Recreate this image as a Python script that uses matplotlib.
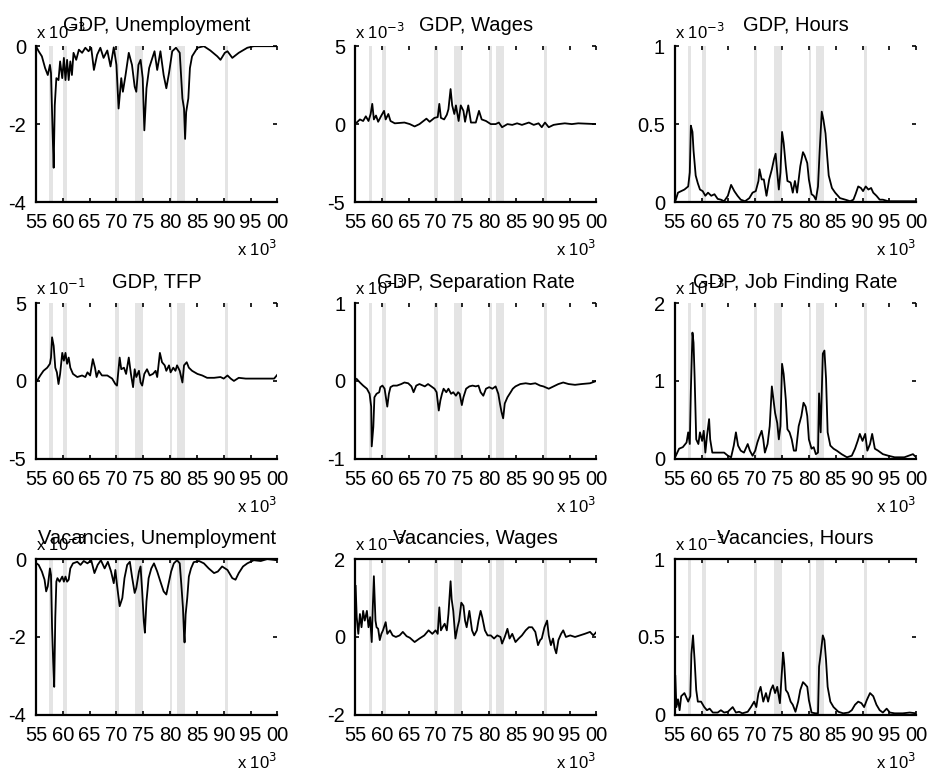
import matplotlib
matplotlib.use("Agg")
import matplotlib.pyplot as plt

plt.rcParams["font.family"] = ["Liberation Sans", "DejaVu Sans"]

# recession bands (start, end)
recessions = [(1957.5, 1958.1), (1960.0, 1960.75), (1969.8, 1970.4), (1973.5, 1974.9),
              (1980.0, 1980.45), (1981.3, 1982.8), (1990.3, 1990.8)]

year_ticks = [1955, 1960, 1965, 1970, 1975, 1980, 1985, 1990, 1995, 2000]
year_labels = ["55", "60", "65", "70", "75", "80", "85", "90", "95", "00"]

# --- GDP, Unemployment (x 10^-3)
gdp_unemp_t = [1955.0, 1955.5, 1956.1, 1956.7, 1957.2, 1957.6, 1957.8, 1958.1, 1958.3, 1958.5,
               1958.8, 1959.2, 1959.5, 1959.9, 1960.2, 1960.5, 1960.8, 1961.1, 1961.4, 1961.7,
               1962.0, 1962.5, 1963.0, 1963.6, 1964.2, 1964.8, 1965.3, 1965.8, 1966.4, 1967.0,
               1967.6, 1968.3, 1968.9, 1969.5, 1970.0, 1970.4, 1970.9, 1971.2, 1971.7, 1972.3,
               1972.9, 1973.4, 1973.7, 1974.1, 1974.5, 1974.9, 1975.2, 1975.6, 1976.1, 1976.7,
               1977.1, 1977.6, 1978.2, 1978.8, 1979.3, 1979.8, 1980.4, 1981.1, 1981.8, 1982.3,
               1982.6, 1982.8, 1983.0, 1983.4, 1983.7, 1984.1, 1985.1, 1986.3, 1987.5, 1988.8,
               1989.4, 1990.2, 1990.7, 1991.6, 1992.8, 1994.4, 1995.6, 2000.0]
gdp_unemp_v = [0.0, -0.13, -0.26, -0.56, -0.74, -0.48, -0.69, -2.2, -3.12, -1.52,
               -0.82, -0.87, -0.39, -0.82, -0.30, -0.87, -0.35, -0.87, -0.39, -0.74,
               -0.17, -0.35, -0.09, -0.17, -0.04, -0.13, -0.04, -0.61, -0.22, -0.04,
               -0.30, -0.11, -0.52, -0.03, -0.48, -1.60, -0.82, -1.17, -0.74, -0.17,
               -0.48, -1.04, -1.17, -0.48, -0.35, -0.82, -2.16, -1.08, -0.56, -0.30,
               -0.13, -0.61, -0.13, -0.74, -1.08, -0.69, -0.13, -0.04, -0.17, -1.34,
               -1.60, -2.38, -1.69, -1.34, -0.56, -0.26, -0.04, 0.0, -0.11, -0.26,
               -0.35, -0.17, -0.13, -0.30, -0.17, -0.04, 0.0, 0.0]

# --- GDP, Wages (x 10^-3)
gdp_wages_t = [1955.3, 1955.9, 1956.5, 1957.0, 1957.5, 1957.9, 1958.2, 1958.5, 1958.9, 1959.3,
               1959.9, 1960.4, 1960.7, 1961.2, 1961.6, 1962.4, 1964.2, 1965.2, 1966.1, 1967.0,
               1968.3, 1968.9, 1969.8, 1970.4, 1970.7, 1971.0, 1971.6, 1972.1, 1972.4, 1972.8,
               1973.1, 1973.5, 1973.8, 1974.3, 1974.7, 1975.2, 1975.5, 1976.1, 1976.6, 1977.5,
               1978.1, 1978.6, 1979.4, 1980.3, 1981.2, 1981.8, 1982.4, 1983.4, 1984.3, 1985.2,
               1986.1, 1987.4, 1988.3, 1989.2, 1989.8, 1990.4, 1991.1, 1992.0, 1992.9, 1994.1,
               1995.4, 1996.6, 2000.0]
gdp_wages_v = [0.1, 0.3, 0.2, 0.5, 0.2, 0.65, 1.3, 0.3, 0.55, 0.15,
               0.55, 0.85, 0.3, 0.65, 0.2, 0.05, 0.1, 0.0, -0.15, 0.0,
               0.35, 0.15, 0.4, 0.45, 1.3, 0.4, 0.3, 0.6, 0.95, 2.25,
               1.2, 0.65, 1.2, 0.2, 1.2, 0.85, 0.15, 1.2, 0.1, 0.1,
               0.85, 0.3, 0.2, 0.0, 0.0, 0.1, -0.2, 0.0, -0.05, 0.05,
               -0.05, 0.1, -0.05, 0.05, -0.2, 0.1, -0.2, -0.05, 0.0, 0.05,
               0.0, 0.05, 0.0]

# --- GDP, Hours (x 10^-3)
gdp_hours_t = [1955.2, 1955.6, 1956.2, 1956.8, 1957.5, 1957.8, 1958.0, 1958.3, 1958.5, 1958.9,
               1959.3, 1959.7, 1960.2, 1960.7, 1961.2, 1961.8, 1962.4, 1963.0, 1963.6, 1964.2,
               1964.9, 1965.5, 1966.1, 1966.7, 1967.3, 1968.1, 1968.9, 1969.5, 1970.1, 1970.6,
               1970.8, 1971.2, 1971.6, 1972.1, 1972.6, 1973.1, 1973.5, 1973.8, 1974.1, 1974.4,
               1974.7, 1975.0, 1975.3, 1975.7, 1976.0, 1976.6, 1977.0, 1977.4, 1977.8, 1978.4,
               1978.9, 1979.2, 1979.7, 1980.0, 1980.5, 1980.9, 1981.3, 1981.7, 1982.0, 1982.4,
               1982.7, 1983.1, 1983.4, 1983.7, 1984.3, 1984.9, 1985.8, 1986.8, 1987.7, 1988.3,
               1988.7, 1989.2, 1989.7, 1990.1, 1990.6, 1991.1, 1991.6, 1992.0, 1992.6, 1993.2,
               1993.8, 1994.8, 1996.0, 2000.0]
gdp_hours_v = [0.015, 0.06, 0.07, 0.08, 0.10, 0.19, 0.49, 0.45, 0.33, 0.17,
               0.12, 0.08, 0.07, 0.04, 0.06, 0.04, 0.05, 0.02, 0.015, 0.005,
               0.04, 0.11, 0.07, 0.04, 0.015, 0.005, 0.025, 0.06, 0.07, 0.135,
               0.21, 0.145, 0.145, 0.04, 0.145, 0.21, 0.275, 0.31, 0.19, 0.08,
               0.19, 0.45, 0.38, 0.23, 0.135, 0.125, 0.06, 0.135, 0.06, 0.23,
               0.32, 0.30, 0.25, 0.145, 0.05, 0.04, 0.015, 0.10, 0.32, 0.58,
               0.53, 0.44, 0.30, 0.17, 0.09, 0.06, 0.025, 0.015, 0.005, 0.015,
               0.05, 0.10, 0.09, 0.07, 0.10, 0.08, 0.09, 0.06, 0.04, 0.015,
               0.015, 0.005, 0.005, 0.005]

# --- GDP, TFP (x 10^-1)
gdp_tfp_t = [1955.2, 1955.8, 1956.4, 1957.1, 1957.6, 1957.8, 1958.0, 1958.3, 1958.6, 1958.9,
             1959.2, 1959.5, 1959.9, 1960.2, 1960.5, 1960.8, 1961.1, 1961.4, 1961.9, 1962.7,
             1963.6, 1964.2, 1964.6, 1965.1, 1965.6, 1966.0, 1966.3, 1966.7, 1967.3, 1968.3,
             1969.2, 1969.8, 1970.1, 1970.6, 1970.9, 1971.4, 1971.8, 1972.3, 1972.7, 1973.1,
             1973.4, 1973.7, 1974.2, 1974.5, 1974.8, 1975.2, 1975.7, 1976.2, 1976.8, 1977.3,
             1977.6, 1978.1, 1978.5, 1979.0, 1979.3, 1979.8, 1980.1, 1980.6, 1981.0, 1981.3,
             1981.8, 1982.3, 1982.6, 1983.1, 1983.5, 1984.1, 1985.1, 1986.0, 1986.9, 1988.2,
             1989.4, 1990.0, 1990.7, 1991.3, 1991.9, 1992.8, 1994.1, 1995.6, 1997.5, 1999.4,
             2000.0]
gdp_tfp_v = [0.0, 0.35, 0.65, 0.85, 1.1, 1.5, 2.8, 2.25, 0.85, 0.55,
             -0.2, 0.45, 1.8, 1.3, 1.8, 1.1, 1.5, 0.85, 0.45, 0.25,
             0.35, 0.25, 0.55, 0.35, 1.4, 0.85, 0.25, 0.65, 0.35, 0.35,
             0.15, -0.2, -0.3, 1.5, 0.75, 0.85, 0.45, 1.5, 0.45, -0.4,
             0.75, 0.25, 0.65, -0.1, -0.3, 0.45, 0.75, 0.35, 0.45, 0.65,
             0.25, 1.8, 1.2, 1.0, 0.65, 1.0, 0.55, 0.85, 0.65, 1.0,
             0.65, -0.1, 1.0, 1.2, 0.85, 0.65, 0.45, 0.35, 0.2, 0.2,
             0.25, 0.15, 0.35, 0.15, 0.0, 0.2, 0.15, 0.15, 0.15, 0.15,
             0.4]

# --- GDP, Separation Rate
gdp_sep_t = [1955.3, 1955.9, 1956.5, 1957.2, 1957.7, 1958.0, 1958.1, 1958.4, 1958.6, 1959.0,
             1959.5, 1959.7, 1960.1, 1960.5, 1961.0, 1961.3, 1961.6, 1962.1, 1962.8, 1963.6,
             1964.2, 1964.9, 1965.5, 1965.9, 1966.4, 1967.0, 1968.0, 1968.6, 1969.2, 1969.8,
             1970.2, 1970.6, 1970.9, 1971.2, 1971.5, 1972.0, 1972.4, 1972.9, 1973.3, 1973.8,
             1974.2, 1974.5, 1974.9, 1975.2, 1975.7, 1976.3, 1976.9, 1977.5, 1978.0, 1978.4,
             1978.9, 1979.4, 1980.0, 1980.6, 1981.2, 1981.7, 1982.0, 1982.3, 1982.6, 1982.9,
             1983.4, 1984.0, 1984.4, 1984.9, 1985.8, 1986.8, 1987.7, 1988.6, 1989.5, 1990.1,
             1991.1, 1992.0, 1992.9, 1993.8, 1994.8, 1996.0, 1997.2, 1998.8, 2000.0]
gdp_sep_v = [0.025, -0.02, -0.06, -0.10, -0.165, -0.33, -0.84, -0.59, -0.21, -0.165,
             -0.145, -0.08, -0.06, -0.10, -0.33, -0.165, -0.08, -0.06, -0.06, -0.04,
             -0.02, -0.03, -0.07, -0.145, -0.06, -0.04, -0.07, -0.04, -0.07, -0.10,
             -0.145, -0.38, -0.25, -0.165, -0.10, -0.145, -0.10, -0.165, -0.145, -0.19,
             -0.145, -0.165, -0.31, -0.21, -0.10, -0.07, -0.06, -0.07, -0.06, -0.145,
             -0.19, -0.10, -0.08, -0.10, -0.07, -0.165, -0.29, -0.40, -0.48, -0.29,
             -0.21, -0.145, -0.10, -0.07, -0.04, -0.03, -0.04, -0.03, -0.06, -0.07,
             -0.10, -0.07, -0.04, -0.02, -0.04, -0.05, -0.04, -0.03, 0.0]

# --- GDP, Job Finding Rate
gdp_jfr_t = [1955.2, 1955.8, 1956.5, 1957.2, 1957.5, 1957.8, 1958.0, 1958.3, 1958.5, 1958.7,
             1959.0, 1959.4, 1959.7, 1960.1, 1960.4, 1960.7, 1961.0, 1961.4, 1961.6, 1962.0,
             1963.0, 1964.2, 1964.9, 1965.5, 1966.0, 1966.4, 1966.8, 1967.3, 1967.9, 1968.6,
             1969.0, 1969.5, 1970.0, 1970.4, 1970.8, 1971.2, 1971.5, 1971.8, 1972.3, 1972.7,
             1973.1, 1973.4, 1973.7, 1974.1, 1974.4, 1974.7, 1975.0, 1975.3, 1975.7, 1976.0,
             1976.4, 1976.8, 1977.2, 1977.6, 1978.1, 1978.6, 1979.0, 1979.4, 1979.7, 1980.0,
             1980.5, 1980.9, 1981.3, 1981.7, 1981.9, 1982.2, 1982.6, 1982.9, 1983.2, 1983.5,
             1984.0, 1984.6, 1985.2, 1986.1, 1987.1, 1988.0, 1988.6, 1989.1, 1989.5, 1990.0,
             1990.5, 1990.9, 1991.4, 1991.8, 1992.3, 1992.9, 1993.8, 1994.8, 1996.0, 1997.8,
             1999.4, 2000.0]
gdp_jfr_v = [0.04, 0.13, 0.15, 0.21, 0.34, 0.19, 0.88, 1.62, 1.49, 1.05,
             0.25, 0.19, 0.34, 0.23, 0.36, 0.08, 0.29, 0.51, 0.25, 0.08,
             0.08, 0.08, 0.04, 0.02, 0.17, 0.34, 0.17, 0.105, 0.08, 0.19,
             0.105, 0.04, 0.105, 0.21, 0.29, 0.36, 0.25, 0.08, 0.19, 0.42,
             0.93, 0.76, 0.59, 0.46, 0.25, 0.42, 1.22, 1.09, 0.76, 0.38,
             0.34, 0.25, 0.105, 0.105, 0.42, 0.55, 0.72, 0.67, 0.55, 0.25,
             0.13, 0.15, 0.06, 0.08, 0.84, 0.34, 1.35, 1.39, 1.03, 0.34,
             0.17, 0.13, 0.105, 0.06, 0.02, 0.04, 0.13, 0.23, 0.32, 0.23,
             0.32, 0.105, 0.19, 0.32, 0.13, 0.105, 0.06, 0.04, 0.02, 0.02,
             0.06, 0.02]

# --- Vacancies, Unemployment
vac_unemp_t = [1955.1, 1955.5, 1956.1, 1956.6, 1956.9, 1957.2, 1957.6, 1957.8, 1958.0, 1958.2,
               1958.4, 1958.6, 1958.8, 1959.0, 1959.4, 1959.9, 1960.2, 1960.5, 1960.8, 1961.1,
               1961.4, 1961.9, 1962.7, 1963.3, 1963.9, 1964.6, 1965.3, 1965.9, 1966.5, 1967.1,
               1967.8, 1968.4, 1969.0, 1969.5, 1969.8, 1970.1, 1970.6, 1971.1, 1971.5, 1972.0,
               1972.5, 1972.9, 1973.4, 1973.7, 1974.2, 1974.5, 1974.8, 1975.1, 1975.3, 1975.6,
               1976.0, 1976.5, 1977.0, 1977.6, 1978.2, 1978.8, 1979.3, 1979.8, 1980.2, 1980.7,
               1981.3, 1981.8, 1982.1, 1982.4, 1982.6, 1982.7, 1982.9, 1983.2, 1983.5, 1983.9,
               1984.4, 1985.4, 1986.3, 1987.2, 1988.2, 1988.9, 1989.7, 1990.7, 1991.6, 1992.2,
               1992.8, 1993.6, 1994.4, 1995.6, 1996.9, 1998.1, 2000.0]
vac_unemp_v = [-0.11, -0.15, -0.32, -0.53, -0.83, -0.70, -0.24, -0.41, -1.76, -2.60,
               -3.28, -1.50, -0.58, -0.49, -0.58, -0.45, -0.58, -0.45, -0.58, -0.53,
               -0.24, -0.11, -0.07, -0.15, -0.05, -0.11, -0.03, -0.36, -0.15, -0.03,
               -0.24, -0.07, -0.32, -0.62, -0.28, -0.66, -1.21, -1.00, -0.49, -0.15,
               -0.07, -0.45, -0.87, -0.74, -0.32, -0.19, -0.83, -1.59, -1.89, -1.08,
               -0.49, -0.24, -0.11, -0.32, -0.58, -0.83, -0.91, -0.58, -0.32, -0.11,
               -0.03, -0.11, -0.66, -1.25, -1.93, -2.14, -1.42, -1.00, -0.45, -0.24,
               -0.08, -0.05, -0.11, -0.24, -0.36, -0.32, -0.19, -0.28, -0.49, -0.53,
               -0.36, -0.19, -0.11, -0.03, -0.05, 0.0, -0.03]

# --- Vacancies, Wages
vac_wages_t = [1955.1, 1955.3, 1955.6, 1955.9, 1956.2, 1956.5, 1956.8, 1957.2, 1957.5, 1957.8,
               1958.1, 1958.3, 1958.5, 1958.8, 1959.0, 1959.3, 1959.6, 1959.9, 1960.2, 1960.7,
               1961.0, 1961.5, 1962.0, 1962.6, 1963.3, 1963.9, 1964.6, 1965.2, 1966.1, 1967.0,
               1967.9, 1968.7, 1969.4, 1970.0, 1970.4, 1970.7, 1971.0, 1971.3, 1971.7, 1972.1,
               1972.4, 1972.8, 1973.0, 1973.3, 1973.7, 1974.1, 1974.4, 1974.8, 1975.2, 1975.5,
               1975.8, 1976.3, 1976.8, 1977.2, 1977.7, 1978.0, 1978.4, 1978.7, 1979.2, 1979.7,
               1980.3, 1980.9, 1981.5, 1982.1, 1982.4, 1982.9, 1983.4, 1983.8, 1984.3, 1984.9,
               1985.5, 1986.1, 1986.8, 1987.4, 1988.0, 1988.6, 1989.1, 1989.5, 1989.8, 1990.3,
               1990.8, 1991.1, 1991.5, 1991.9, 1992.2, 1992.5, 1992.9, 1993.4, 1993.8, 1994.3,
               1995.1, 1996.0, 1996.9, 1997.8, 1998.8, 1999.4, 2000.0]
vac_wages_v = [1.31, 0.51, 0.08, 0.59, 0.25, 0.67, 0.42, 0.67, 0.25, 0.51,
               -0.13, 0.76, 1.56, 0.42, 0.25, 0.21, -0.08, 0.08, 0.17, 0.38,
               0.08, 0.17, 0.04, 0.0, 0.04, 0.13, 0.02, -0.02, -0.13, -0.04,
               0.04, 0.17, 0.08, 0.17, 0.08, 0.76, 0.17, 0.25, 0.34, 0.17,
               0.59, 1.43, 0.97, 0.67, -0.04, 0.25, 0.42, 0.88, 0.80, 0.42,
               0.25, 0.67, 0.17, 0.04, 0.17, 0.42, 0.67, 0.51, 0.17, 0.04,
               0.04, -0.04, 0.04, 0.0, -0.17, 0.0, 0.21, -0.04, 0.08, -0.13,
               -0.04, 0.04, 0.17, 0.25, 0.25, 0.13, -0.21, -0.08, -0.04, 0.25,
               0.42, 0.04, -0.21, -0.04, -0.29, -0.42, -0.08, 0.08, 0.17, 0.0,
               0.04, 0.0, 0.04, 0.08, 0.13, 0.04, 0.13]

# --- Vacancies, Hours
vac_hours_t = [1955.1, 1955.3, 1955.6, 1955.9, 1956.2, 1956.8, 1957.5, 1957.9, 1958.1, 1958.4,
               1958.7, 1959.0, 1959.3, 1959.9, 1960.5, 1961.0, 1961.5, 1962.1, 1963.0, 1963.6,
               1964.2, 1964.9, 1965.8, 1966.4, 1967.0, 1967.6, 1968.6, 1969.2, 1969.8, 1970.2,
               1970.6, 1971.0, 1971.5, 1972.0, 1972.4, 1972.9, 1973.3, 1973.7, 1974.1, 1974.6,
               1974.9, 1975.2, 1975.4, 1975.7, 1976.1, 1976.6, 1977.0, 1977.5, 1978.0, 1978.4,
               1978.9, 1979.2, 1979.7, 1980.0, 1980.5, 1981.2, 1981.7, 1981.9, 1982.2, 1982.6,
               1982.9, 1983.2, 1983.5, 1984.0, 1984.6, 1985.5, 1986.4, 1987.4, 1988.0, 1988.6,
               1989.2, 1989.8, 1990.3, 1990.8, 1991.4, 1992.0, 1992.6, 1993.2, 1993.8, 1994.5,
               1995.1, 1996.0, 1997.5, 1998.8, 2000.0]
vac_hours_v = [0.25, 0.05, 0.10, 0.03, 0.12, 0.14, 0.085, 0.12, 0.39, 0.51,
               0.35, 0.16, 0.085, 0.085, 0.05, 0.03, 0.04, 0.015, 0.015, 0.03,
               0.015, 0.02, 0.05, 0.015, 0.02, 0.01, 0.02, 0.05, 0.085, 0.05,
               0.14, 0.18, 0.085, 0.14, 0.085, 0.16, 0.19, 0.14, 0.18, 0.075,
               0.24, 0.40, 0.33, 0.16, 0.14, 0.085, 0.065, 0.02, 0.085, 0.16,
               0.21, 0.20, 0.18, 0.095, 0.015, 0.01, 0.01, 0.31, 0.39, 0.51,
               0.48, 0.35, 0.18, 0.085, 0.05, 0.02, 0.01, 0.015, 0.03, 0.065,
               0.085, 0.075, 0.05, 0.095, 0.14, 0.12, 0.065, 0.03, 0.015, 0.04,
               0.015, 0.01, 0.01, 0.015, 0.01]

titles = ["GDP, Unemployment", "GDP, Wages", "GDP, Hours",
          "GDP, TFP", "GDP, Separation Rate", "GDP, Job Finding Rate",
          "Vacancies, Unemployment", "Vacancies, Wages", "Vacancies, Hours"]
series = [(gdp_unemp_t, gdp_unemp_v), (gdp_wages_t, gdp_wages_v), (gdp_hours_t, gdp_hours_v),
          (gdp_tfp_t, gdp_tfp_v), (gdp_sep_t, gdp_sep_v), (gdp_jfr_t, gdp_jfr_v),
          (vac_unemp_t, vac_unemp_v), (vac_wages_t, vac_wages_v), (vac_hours_t, vac_hours_v)]
y_ticks = [[-4, -2, 0], [-5, 0, 5], [0, 0.5, 1],
           [-5, 0, 5], [-1, 0, 1], [0, 1, 2],
           [-4, -2, 0], [-2, 0, 2], [0, 0.5, 1]]
y_exps = ["-3", "-3", "-3", "-1", "-3", "-3", "-3", "-3", "-3"]
x_exp = "3"

fig = plt.figure(figsize=(9.32, 7.83), dpi=100)
lefts = [0.0386, 0.381, 0.724]
bottoms = [0.742, 0.414, 0.087]
W, H = 0.259, 0.199

for i in range(9):
    r, c = divmod(i, 3)
    ax = fig.add_axes([lefts[c], bottoms[r], W, H])
    for a, b in recessions:
        ax.axvspan(a, b, color="#e4e4e4", lw=0, zorder=0)
    t, v = series[i]
    ax.plot(t, v, color="black", lw=1.3, zorder=2)
    ax.set_xlim(1955, 2000)
    yt = y_ticks[i]
    ax.set_ylim(yt[0], yt[-1])
    ax.set_yticks(yt)
    ax.set_yticklabels(["%g" % y for y in yt])
    ax.set_xticks(year_ticks)
    ax.set_xticklabels(year_labels)
    ax.tick_params(direction="in", length=3, width=1.2, labelsize=14.5,
                   top=True, right=True)
    ax.tick_params(axis="x", pad=8)
    ax.tick_params(axis="y", pad=7)
    for s in ["left", "bottom"]:
        ax.spines[s].set_linewidth(1.6)
    ax.spines["right"].set_visible(False)
    # bottom row keeps a top border line, as in the original
    if r == 2:
        ax.spines["top"].set_linewidth(1.6)
    else:
        ax.spines["top"].set_visible(False)
    ax.set_title(titles[i], fontsize=14.5, pad=11)
    ax.text(0.0, 1.03, r"x 10$^{%s}$" % y_exps[i], transform=ax.transAxes,
            ha="left", va="bottom", fontsize=12)
    ax.text(1.0, -0.30, r"x 10$^{%s}$" % x_exp, transform=ax.transAxes,
            ha="right", va="center", fontsize=12)

fig.savefig("out.png", dpi=100)
